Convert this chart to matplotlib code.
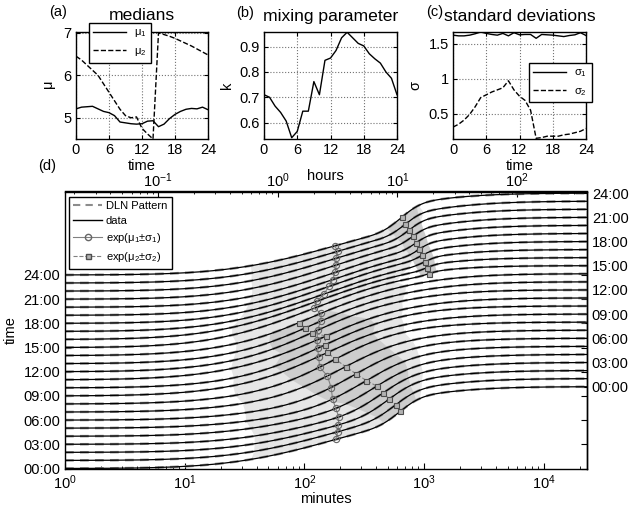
import math
import numpy as np
import matplotlib
matplotlib.use('Agg')
import matplotlib.pyplot as plt
from matplotlib.ticker import FuncFormatter, FixedLocator, LogLocator, NullFormatter
from matplotlib.lines import Line2D

plt.rcParams['font.family'] = ['Liberation Sans', 'DejaVu Sans']
plt.rcParams['mathtext.fontset'] = 'custom'
plt.rcParams['mathtext.rm'] = 'Liberation Sans'
plt.rcParams['mathtext.it'] = 'Liberation Sans:italic'
plt.rcParams['mathtext.default'] = 'regular'
plt.rcParams['font.size'] = 10.5
plt.rcParams['xtick.direction'] = 'in'
plt.rcParams['ytick.direction'] = 'in'
plt.rcParams['axes.linewidth'] = 1.0

# hourly parameters of the double log-normal (minutes, natural log)
hours = np.arange(25)
mu1 = np.array([5.21, 5.25, 5.26, 5.27, 5.21, 5.15, 5.12, 5.05, 4.90, 4.88, 4.86, 4.85, 4.86,
                4.92, 4.93, 4.79, 4.85, 4.98, 5.08, 5.15, 5.20, 5.22, 5.21, 5.25, 5.19])
mu2 = np.array([6.45, 6.36, 6.24, 6.12, 6.00, 5.80, 5.60, 5.40, 5.20, 5.05, 5.00, 5.02, 4.75,
                4.62, 4.50, 7.00, 6.96, 6.92, 6.87, 6.81, 6.75, 6.69, 6.62, 6.55, 6.48])
k = np.array([0.71, 0.70, 0.665, 0.64, 0.606, 0.54, 0.565, 0.645, 0.645, 0.762, 0.71, 0.846, 0.855,
              0.885, 0.935, 0.957, 0.935, 0.913, 0.903, 0.872, 0.852, 0.835, 0.80, 0.775, 0.71])
sig1 = np.array([1.62, 1.61, 1.61, 1.62, 1.64, 1.665, 1.645, 1.63, 1.62, 1.645, 1.61, 1.655, 1.625,
                 1.63, 1.63, 1.575, 1.63, 1.625, 1.62, 1.61, 1.60, 1.615, 1.625, 1.655, 1.615])
sig2 = np.array([0.31, 0.35, 0.41, 0.49, 0.60, 0.73, 0.77, 0.81, 0.84, 0.87, 0.97, 0.84, 0.75,
                 0.69, 0.55, 0.15, 0.16, 0.18, 0.18, 0.18, 0.20, 0.21, 0.23, 0.25, 0.29])

offset = 10.15      # height of one cdf, in hours
xmax = 23040        # minutes

erf = np.vectorize(math.erf)


def cdf(x, i):
    lx = np.log(x)
    f1 = 0.5 * (1 + erf((lx - mu1[i]) / (sig1[i] * math.sqrt(2))))
    f2 = 0.5 * (1 + erf((lx - mu2[i]) / (sig2[i] * math.sqrt(2))))
    return k[i] * f1 + (1 - k[i]) * f2


def band(idx, lo, hi):
    i0, i1 = idx[0], idx[-1]
    seg = np.exp(np.linspace(lo[i0], hi[i0], 40))
    xs = list(seg)
    ys = list(hours[i0] + offset * cdf(seg, i0))
    for i in idx:
        xr = math.exp(hi[i])
        xs.append(xr)
        ys.append(hours[i] + offset * cdf(xr, i))
    seg = np.exp(np.linspace(hi[i1], lo[i1], 40))
    xs += list(seg)
    ys += list(hours[i1] + offset * cdf(seg, i1))
    for i in idx[::-1]:
        xl = math.exp(lo[i])
        xs.append(xl)
        ys.append(hours[i] + offset * cdf(xl, i))
    return xs, ys


fig = plt.figure(figsize=(6.29, 5.13), dpi=100)

W, H = 629.0, 513.0


def pos(l, t, r, b):
    return [l / W, 1 - b / H, (r - l) / W, (b - t) / H]


# ---- small panels
axa = fig.add_axes(pos(76, 32, 208, 139))
axb = fig.add_axes(pos(264, 32, 397, 139))
axc = fig.add_axes(pos(453, 32, 586, 139))

axa.plot(hours, mu1, 'k-', lw=1.0, label=r'$\mu_1$')
axa.plot(hours, mu2, 'k--', lw=1.0, label=r'$\mu_2$')
axa.set_ylim(4.5, 7.02)
axa.set_yticks([5, 6, 7])
axa.set_ylabel(r'$\mu$', labelpad=4)
axa.set_xlabel('time', labelpad=1)
axa.set_title('medians', pad=9)
la = axa.legend(loc='upper left', bbox_to_anchor=(0.098, 1.084), borderaxespad=0, fontsize=8,
                handlelength=2.9, fancybox=False, edgecolor='k', framealpha=1, labelspacing=0.6)
la.set_zorder(10)

axb.plot(hours, k, 'k-', lw=1.0)
axb.set_ylim(0.535, 0.958)
axb.set_yticks([0.6, 0.7, 0.8, 0.9])
axb.set_ylabel('k', labelpad=4)
axb.set_title('mixing parameter', pad=8)

axc.plot(hours, sig1, 'k-', lw=1.0, label=r'$\sigma_1$')
axc.plot(hours, sig2, 'k--', lw=1.0, label=r'$\sigma_2$')
axc.set_ylim(0.14, 1.665)
axc.set_yticks([0.5, 1, 1.5])
axc.set_yticklabels(['0.5', '1', '1.5'])
axc.set_ylabel(r'$\sigma$', labelpad=4)
axc.set_xlabel('time', labelpad=1)
axc.set_title('standard deviations', pad=8)
axc.legend(loc='upper left', bbox_to_anchor=(0.571, 0.71), borderaxespad=0, fontsize=8,
           handlelength=2.9, fancybox=False, edgecolor='k', framealpha=1, labelspacing=0.6)

for ax in (axa, axb, axc):
    ax.set_xlim(0, 24)
    ax.set_xticks([0, 6, 12, 18, 24])
    ax.grid(True, ls=':', color='0.45', lw=0.8)
    ax.tick_params(top=True, right=True, length=3, pad=3)

fig.text(58 / W, 1 - 12 / H, '(a)', ha='center', va='center')
fig.text(245 / W, 1 - 13 / H, '(b)', ha='center', va='center')
fig.text(435 / W, 1 - 12 / H, '(c)', ha='center', va='center')
fig.text(47 / W, 1 - 166 / H, '(d)', ha='center', va='center')

# ---- main panel
axd = fig.add_axes(pos(65, 191.5, 587, 468.5))

lo1, hi1 = mu1 - sig1, mu1 + sig1
lo2, hi2 = mu2 - sig2, mu2 + sig2
xs, ys = band(list(range(0, 25)), lo1, hi1)
axd.fill(xs, ys, color='#e6e6e6', lw=0, zorder=1)
for grp in (list(range(0, 15)), list(range(15, 25))):
    xs, ys = band(grp, lo2, hi2)
    axd.fill(xs, ys, color='#cdcdcd', lw=0, zorder=1)

xgrid = np.logspace(0, np.log10(xmax), 500)
for i in hours:
    y = hours[i] + offset * cdf(xgrid, i)
    axd.plot(xgrid, y, color='0.55', ls=(0, (3.5, 2.5)), lw=1.8, zorder=2)
    axd.plot(xgrid, y, color='k', lw=0.9, zorder=3)

m1x = np.exp(mu1)
m1y = [hours[i] + offset * cdf(m1x[i], i) for i in hours]
axd.plot(m1x, m1y, '-', color='0.5', lw=0.8, marker='o', ms=4.5, mfc='none', mec='0.4',
         mew=0.8, zorder=4)
for grp in (list(range(0, 15)), list(range(15, 25))):
    m2x = np.exp(mu2[grp])
    m2y = [hours[i] + offset * cdf(math.exp(mu2[i]), i) for i in grp]
    axd.plot(m2x, m2y, '--', color='0.5', lw=0.8, marker='s', ms=3.6, mfc='0.7', mec='0.3',
             mew=0.8, zorder=4)

axd.set_xscale('log')
axd.set_xlim(1, xmax)
axd.set_ylim(0, 34.35)
axd.set_yticks(range(0, 25, 3))
axd.yaxis.set_major_formatter(FuncFormatter(lambda v, p: '%02d:00' % v))
axd.set_ylabel('time', labelpad=4)
axd.set_xlabel('minutes', labelpad=0)
axd.tick_params(which='both', right=True, length=4)
axd.tick_params(which='minor', length=2.5)

top = axd.secondary_xaxis('top', functions=(lambda m: m / 60.0, lambda h: h * 60.0))
top.xaxis.set_major_locator(FixedLocator([0.1, 1, 10, 100]))
top_minor = [m * d for d in (0.01, 0.1, 1, 10, 100) for m in range(2, 10)]
top.xaxis.set_minor_locator(FixedLocator([v for v in top_minor if 1 / 60.0 < v < xmax / 60.0]))
top.xaxis.set_minor_formatter(NullFormatter())
top.tick_params(which='both', direction='in', length=4, pad=1)
top.tick_params(which='minor', length=2.5)
fig.text(325 / W, 1 - 176 / H, 'hours', ha='center', va='center')

rgt = axd.secondary_yaxis('right', functions=(lambda v: v - offset, lambda v: v + offset))
rgt.yaxis.set_major_locator(FixedLocator(list(range(0, 25, 3))))
rgt.yaxis.set_major_formatter(FuncFormatter(lambda v, p: '%02d:00' % round(v)))
rgt.tick_params(direction='in', length=4)

handles = [Line2D([], [], color='0.55', ls=(0, (3.5, 2.5)), lw=1.5),
           Line2D([], [], color='k', lw=1.0),
           Line2D([], [], color='0.5', lw=0.8, marker='o', ms=4.5, mfc='none', mec='0.4'),
           Line2D([], [], color='0.5', lw=0.8, ls='--', marker='s', ms=3.6, mfc='0.7', mec='0.3')]
labels = ['DLN Pattern', 'data', r'exp($\mu_1$$\pm$$\sigma_1$)', r'exp($\mu_2$$\pm$$\sigma_2$)']
leg = axd.legend(handles, labels, loc='upper left', bbox_to_anchor=(0.0077, 0.981),
                 borderaxespad=0, fontsize=8, handlelength=2.6, fancybox=False,
                 edgecolor='k', framealpha=1, labelspacing=0.45, handletextpad=0.3)
leg.set_zorder(10)

fig.savefig('out.png', dpi=100)
